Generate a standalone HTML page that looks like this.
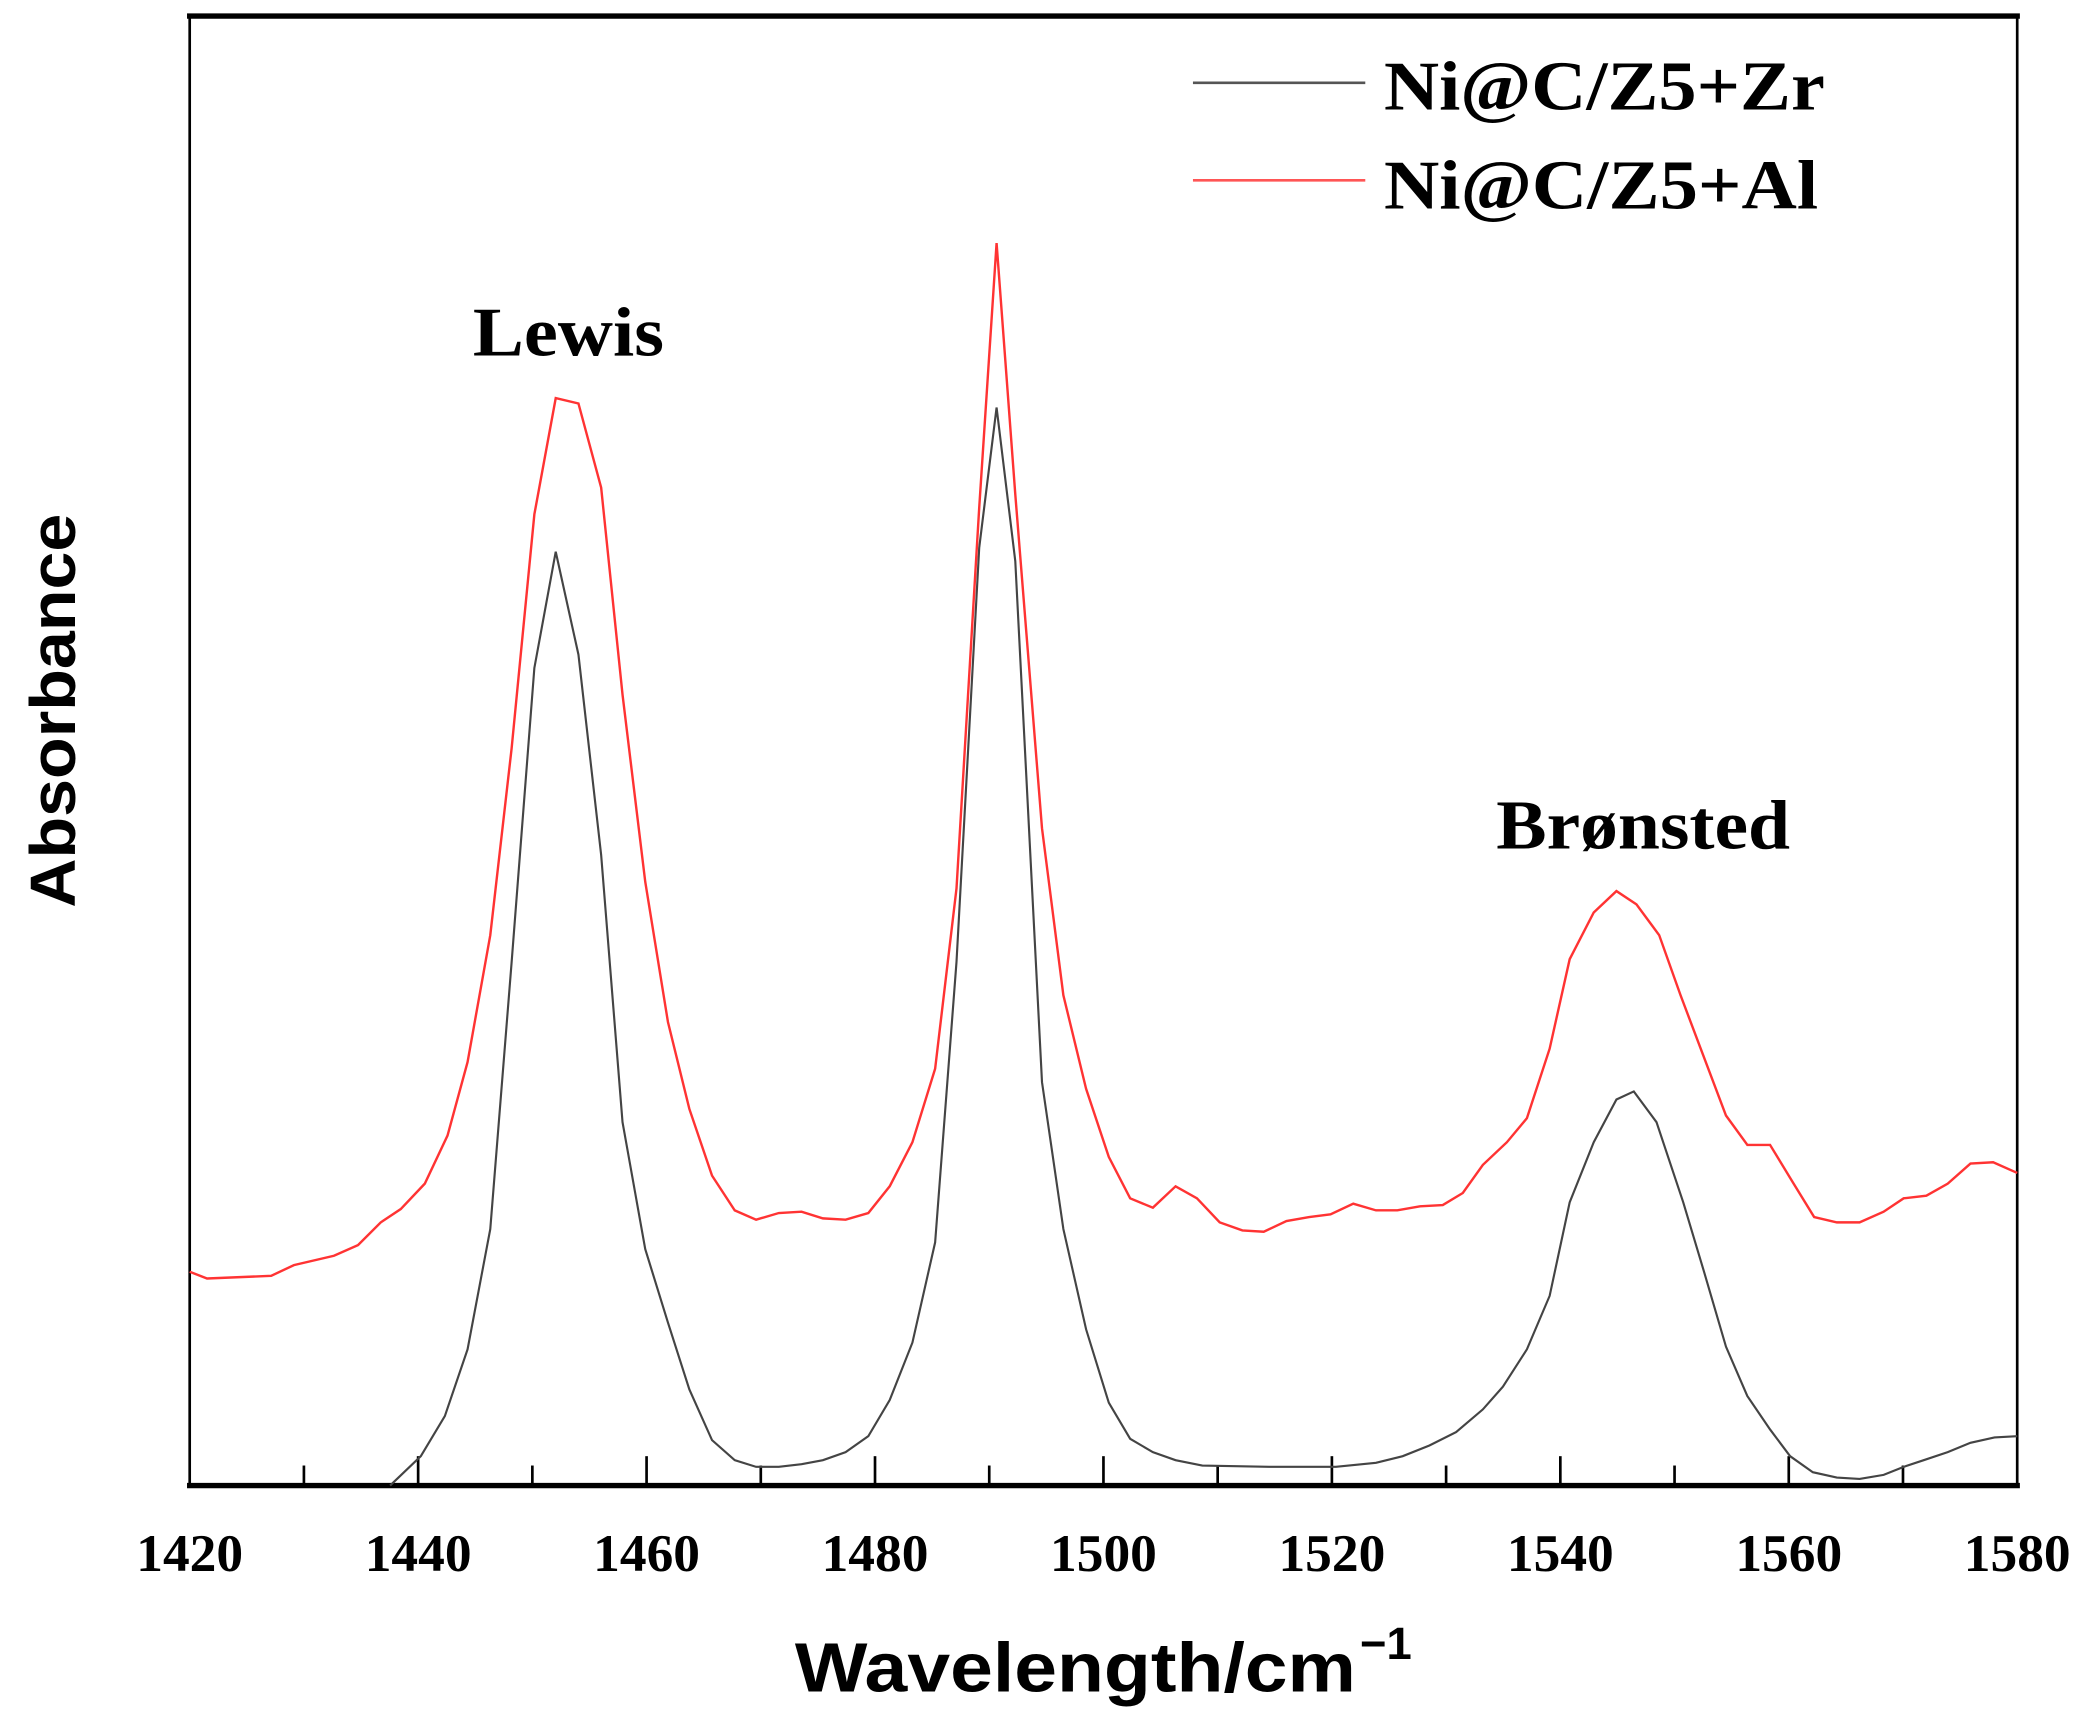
<!DOCTYPE html>
<html><head><meta charset="utf-8"><style>html,body{margin:0;padding:0;background:#fff}svg{display:block}</style></head>
<body>
<svg width="2084" height="1712" viewBox="0 0 1560 1281.5" preserveAspectRatio="none" xmlns="http://www.w3.org/2000/svg">
<rect width="1560" height="1282" fill="#fff"/>
<line x1="142" y1="11" x2="142" y2="1112" stroke="#000" stroke-width="2"/>
<line x1="1510" y1="11" x2="1510" y2="1112" stroke="#000" stroke-width="2"/>
<line x1="140" y1="12" x2="1512" y2="12" stroke="#000" stroke-width="4"/>
<line x1="140" y1="1112" x2="1512" y2="1112" stroke="#000" stroke-width="4"/>
<g stroke="#000" stroke-width="2">
<line x1="313" y1="1112" x2="313" y2="1090"/><line x1="484" y1="1112" x2="484" y2="1090"/><line x1="655" y1="1112" x2="655" y2="1090"/><line x1="826" y1="1112" x2="826" y2="1090"/><line x1="997" y1="1112" x2="997" y2="1090"/><line x1="1168" y1="1112" x2="1168" y2="1090"/><line x1="1339" y1="1112" x2="1339" y2="1090"/>
<line x1="227.5" y1="1112" x2="227.5" y2="1097"/><line x1="398.5" y1="1112" x2="398.5" y2="1097"/><line x1="569.5" y1="1112" x2="569.5" y2="1097"/><line x1="740.5" y1="1112" x2="740.5" y2="1097"/><line x1="911.5" y1="1112" x2="911.5" y2="1097"/><line x1="1082.5" y1="1112" x2="1082.5" y2="1097"/><line x1="1253.5" y1="1112" x2="1253.5" y2="1097"/><line x1="1424.5" y1="1112" x2="1424.5" y2="1097"/>
</g>
<g font-family="Liberation Serif, serif" font-weight="bold" font-size="40" text-anchor="middle">
<text x="142" y="1176">1420</text><text x="313" y="1176">1440</text><text x="484" y="1176">1460</text><text x="655" y="1176">1480</text><text x="826" y="1176">1500</text><text x="997" y="1176">1520</text><text x="1168" y="1176">1540</text><text x="1339" y="1176">1560</text><text x="1510" y="1176">1580</text>
</g>
<text x="595" y="1266" font-family="Liberation Sans, sans-serif" font-weight="bold" font-size="52" textLength="420" lengthAdjust="spacingAndGlyphs">Wavelength/cm</text>
<text x="1018" y="1242" font-family="Liberation Sans, sans-serif" font-weight="bold" font-size="34">−1</text>
<text transform="translate(56,532) rotate(-90)" font-family="Liberation Sans, sans-serif" font-weight="bold" font-size="48" text-anchor="middle" textLength="295" lengthAdjust="spacingAndGlyphs">Absorbance</text>
<line x1="893" y1="62" x2="1022" y2="62" stroke="#555" stroke-width="2"/>
<line x1="893" y1="135" x2="1022" y2="135" stroke="#f55" stroke-width="2"/>
<g font-family="Liberation Serif, serif" font-weight="bold" font-size="52">
<text x="1036" y="82" textLength="330" lengthAdjust="spacingAndGlyphs">Ni@C/Z5+Zr</text>
<text x="1036" y="156" textLength="325" lengthAdjust="spacingAndGlyphs">Ni@C/Z5+Al</text>
<text x="354" y="266" textLength="143" lengthAdjust="spacingAndGlyphs">Lewis</text>
<text x="1120" y="635" textLength="220" lengthAdjust="spacingAndGlyphs">Brønsted</text>
</g>
<polyline fill="none" stroke="#444" stroke-width="1.6" points="292,1112 315,1090 333,1060 350,1010 367,920 383,720 400,500 416,413 433,490 450,640 466,840 483,935 500,990 516,1040 533,1078 550,1093 566,1098 583,1098 600,1096 616,1093 633,1087 650,1075 666,1048 683,1005 700,930 716,720 733,410 746,305 760,420 780,810 796,920 813,995 830,1050 846,1077 863,1087 880,1093 900,1097 950,1098 1000,1098 1030,1095 1050,1090 1070,1082 1090,1072 1110,1055 1125,1038 1143,1010 1160,970 1175,900 1193,855 1210,823 1223,817 1240,840 1260,900 1275,950 1292,1008 1308,1045 1325,1070 1340,1090 1357,1102 1375,1106 1392,1107 1410,1104 1425,1098 1440,1093 1458,1087 1475,1080 1493,1076 1510,1075"/>
<polyline fill="none" stroke="#f33" stroke-width="1.8" points="142,952 155,957 203,955 220,947 250,940 268,932 285,915 300,905 318,886 335,850 350,795 367,700 383,560 400,385 416,298 433,302 450,365 466,520 483,660 500,765 516,830 533,880 550,906 566,913 583,908 600,907 616,912 633,913 650,908 666,888 683,855 700,800 716,665 733,380 746,182 760,370 780,620 796,745 813,815 830,866 846,897 863,904 880,888 896,897 913,915 930,921 946,922 963,914 980,911 996,909 1013,901 1030,906 1046,906 1063,903 1080,902 1095,893 1110,872 1128,855 1143,837 1160,785 1175,718 1193,683 1210,667 1225,677 1242,700 1258,745 1275,790 1292,835 1308,857 1325,857 1342,885 1358,911 1375,915 1392,915 1410,907 1425,897 1442,895 1458,886 1475,871 1492,870 1510,878"/>
</svg>
</body></html>
